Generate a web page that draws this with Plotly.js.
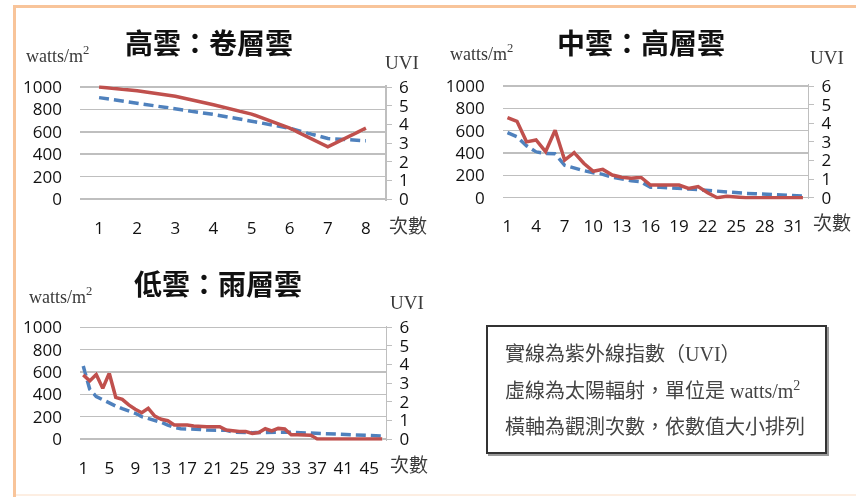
<!DOCTYPE html>
<html>
<head>
<meta charset="utf-8">
<script src="https://cdn.plot.ly/plotly-3.0.1.min.js"></script>
<style>
html,body{margin:0;padding:0;background:#fff;}
#page{position:relative;width:856px;height:497px;overflow:hidden;background:#fff;}
.fig{position:absolute;z-index:1;}
.grid{position:absolute;z-index:2;pointer-events:none;mix-blend-mode:darken;}
.bd{position:absolute;z-index:10;pointer-events:none;}
</style>
</head>
<body>
<div id="page">
  <div id="c1" class="fig" style="left:0;top:0;width:428px;height:250px;"></div>
  <div id="g1" class="grid" style="left:0;top:0;width:428px;height:250px;"></div>
  <div id="c2" class="fig" style="left:428px;top:0;width:428px;height:250px;"></div>
  <div id="g2" class="grid" style="left:428px;top:0;width:428px;height:250px;"></div>
  <div id="c3" class="fig" style="left:0;top:250px;width:856px;height:247px;"></div>
  <div id="g3" class="grid" style="left:0;top:250px;width:856px;height:247px;"></div>
  <div class="bd" style="left:13px;top:5px;width:3px;height:492px;background:#f8c49a;"></div>
  <div class="bd" style="left:13px;top:5px;width:843px;height:3px;background:#f8c49a;"></div>
  <div class="bd" style="left:16px;top:494px;width:840px;height:2px;background:#fdeee2;"></div>
</div>
<script>
// ---- data ----
const titles = ["高雲：卷層雲", "中雲：高層雲", "低雲：雨層雲"];
const leftTicks = [0, 200, 400, 600, 800, 1000];
const rightTicks = [0, 1, 2, 3, 4, 5, 6];

// 高雲：卷層雲
const c1Ticks = [1, 2, 3, 4, 5, 6, 7, 8];
const c1Uvi = [6.0, 5.8, 5.5, 5.05, 4.55, 3.8, 2.8, 3.8];
const c1Rad = [905, 855, 810, 755, 695, 632, 540, 520];

// 中雲：高層雲
const c2Ticks = [1, 4, 7, 10, 13, 16, 19, 22, 25, 28, 31];
const c2Uvi = [4.3, 4.1, 3.0, 3.1, 2.47, 3.62, 2.02, 2.42, 1.85, 1.42, 1.52, 1.22, 1.1, 1.04, 1.1,
               0.68, 0.68, 0.68, 0.68, 0.5, 0.6, 0.27, 0.0, 0.08, 0.02, 0, 0, 0, 0, 0, 0, 0];
const c2Rad = [582, 546, 465, 410, 395, 394, 290, 263, 242, 224, 209, 183, 165, 152, 143,
               93, 93, 90, 85, 78, 72, 64, 60, 51, 45, 39, 36, 33, 30, 24, 21, 15];

// 低雲：雨層雲
const c3Ticks = [1, 5, 9, 13, 17, 21, 25, 29, 33, 37, 41, 45];
const c3Uvi = [3.44, 3.12, 3.47, 2.72, 3.53, 2.24, 2.13, 1.83, 1.6, 1.41, 1.65, 1.23, 1.06, 0.98,
               0.75, 0.75, 0.75, 0.7, 0.66, 0.66, 0.66, 0.66, 0.48, 0.43, 0.4, 0.4, 0.3, 0.35,
               0.55, 0.43, 0.57, 0.54, 0.23, 0.23, 0.23, 0.2, 0, 0, 0, 0, 0, 0, 0, 0, 0, 0, 0];
const c3Rad = [653, 445, 380, 349, 325, 295, 271, 253, 230, 200, 185, 170, 149, 125, 104, 92,
               92, 89, 86, 80, 80, 80, 78, 62, 58, 57, 57, 58, 60, 60, 60, 60, 60, 58, 57, 55,
               48, 45, 45, 44, 40, 39, 38, 33, 32, 30, 27];

const noteLines = ["實線為紫外線指數（UVI）", "虛線為太陽輻射，單位是 watts/m<sup>2</sup>", "橫軸為觀測次數，依數值大小排列"];

// ---- styling ----
const RED = "#C0504D", BLUE = "#4F81BD";
const GRID = "#bfbfbf";
const tickFont = {family: "Open Sans, Liberation Sans, sans-serif", size: 17, color: "#111"};
const serif = "Liberation Serif, Noto Sans CJK TC, serif";
const titleFont = {family: "Noto Sans CJK TC, sans-serif", size: 28, color: "#111", weight: 700};
const idx = arr => arr.map((_, i) => i + 1);
const PAD = 15;          // small range padding (axis units of the left scale)
const LMAX = 1000, RMAX = 6;

function makeChart(cfg) {
  const {div, gridDiv, ox, oy, w, h, title, ticks, uvi, rad, box, pos} = cfg;
  const px = x => (x - ox) / w;
  const py = y => 1 - (y - oy) / h;
  // box.y0 = pixel of 1000, box.y1 = pixel of 0
  const k = (box.y1 - box.y0) / LMAX;
  const top = box.y0 - PAD * k, bot = box.y1 + PAD * k;
  const yDomain = [py(bot), py(top)];
  const xDomain = [px(box.x0), px(box.x1)];
  const xRange = [0.5, uvi.length + 0.5];
  const yRange = [-PAD, LMAX + PAD];
  const y2Range = [-PAD * RMAX / LMAX, RMAX + PAD * RMAX / LMAX];

  const data = [
    {x: idx(rad), y: rad, type: "scatter", mode: "lines",
     line: {color: BLUE, width: 3.5, dash: "10px,5px"}},
    {x: idx(uvi), y: uvi, yaxis: "y2", type: "scatter", mode: "lines",
     line: {color: RED, width: 3.5}}
  ];

  const ann = [];
  const txt = (text, x, y, font, extra) => ann.push(Object.assign({text: text, x: px(x), y: py(y),
    xref: "paper", yref: "paper", showarrow: false, xanchor: "center", yanchor: "middle", font: font}, extra || {}));
  const lab = (size) => ({family: serif, size: size, color: "#3a3a3a"});

  txt(title, pos.title[0], pos.title[1], titleFont);
  txt("watts/m<sup>2</sup>", pos.unit[0], pos.unit[1], lab(18));
  txt("UVI", pos.uvi[0], pos.uvi[1], lab(19));
  txt("次數", pos.cnt[0], pos.cnt[1], lab(19));

  const shapes = [];
  if (cfg.note) {
    const n = cfg.note;
    shapes.push(
      {type: "rect", xref: "paper", yref: "paper", x0: px(n.x0 + 2), x1: px(n.x1 + 2), y0: py(n.y1 + 2), y1: py(n.y0 + 2),
       line: {color: "#9a9a9a", width: 2}},
      {type: "rect", xref: "paper", yref: "paper", x0: px(n.x0), x1: px(n.x1), y0: py(n.y1), y1: py(n.y0),
       line: {color: "#333", width: 2}, fillcolor: "#fff"});
    noteLines.forEach((t, i) => txt(t, n.tx, n.ty[i], {family: serif, size: 20, color: "#444"}, {xanchor: "left"}));
  }

  const layout = {
    width: w, height: h, margin: {l: 0, r: 0, t: 0, b: 0},
    paper_bgcolor: "rgba(0,0,0,0)", plot_bgcolor: "rgba(0,0,0,0)", showlegend: false,
    xaxis: {domain: xDomain, range: xRange, anchor: "y",
            tickmode: "array", tickvals: ticks,
            showgrid: false, zeroline: false, showline: false, ticks: "",
            tickfont: tickFont, ticklabelstandoff: 15},
    yaxis: {domain: yDomain, range: yRange, anchor: "x",
            tickmode: "array", tickvals: leftTicks,
            showgrid: false, zeroline: false, showline: false, ticks: "",
            tickfont: tickFont, ticklabelstandoff: 17},
    yaxis2: {overlaying: "y", side: "right", anchor: "x", range: y2Range,
            tickmode: "array", tickvals: rightTicks,
            showgrid: false, zeroline: false, showline: true, linecolor: GRID, linewidth: 1.5,
            ticks: "outside", ticklen: 5, tickcolor: GRID,
            tickfont: tickFont, ticklabelstandoff: 4},
    annotations: ann, shapes: shapes
  };
  Plotly.newPlot(div, data, layout, {displayModeBar: false, staticPlot: true});

  // gridlines: a plain axes-only figure on the same scales, blended (darken) over the chart
  const gridLayout = {
    width: w, height: h, margin: {l: 0, r: 0, t: 0, b: 0},
    paper_bgcolor: "rgba(0,0,0,0)", plot_bgcolor: "rgba(0,0,0,0)", showlegend: false,
    xaxis: {domain: xDomain, range: xRange, showgrid: false, zeroline: false, showline: false,
            ticks: "", showticklabels: false},
    yaxis: {domain: yDomain, range: yRange, tickmode: "array", tickvals: leftTicks,
            showgrid: true, gridcolor: GRID, gridwidth: 1.5, zeroline: false, showline: false,
            ticks: "", showticklabels: false}
  };
  Plotly.newPlot(gridDiv, [], gridLayout, {displayModeBar: false, staticPlot: true});
}

makeChart({div: "c1", gridDiv: "g1", ox: 0, oy: 0, w: 428, h: 250, title: titles[0], ticks: c1Ticks, uvi: c1Uvi, rad: c1Rad,
  box: {x0: 80, x1: 385, y0: 87, y1: 199},
  pos: {title: [209, 42], unit: [58, 55], uvi: [402, 62], cnt: [408, 226]}});

makeChart({div: "c2", gridDiv: "g2", ox: 428, oy: 0, w: 428, h: 250, title: titles[1], ticks: c2Ticks, uvi: c2Uvi, rad: c2Rad,
  box: {x0: 502.7, x1: 807.7, y0: 86, y1: 197.7},
  pos: {title: [641, 42], unit: [482, 53], uvi: [827, 58], cnt: [832, 223]}});

makeChart({div: "c3", gridDiv: "g3", ox: 0, oy: 250, w: 856, h: 247, title: titles[2], ticks: c3Ticks, uvi: c3Uvi, rad: c3Rad,
  box: {x0: 80, x1: 385.5, y0: 327.3, y1: 439},
  pos: {title: [218, 283], unit: [61, 295], uvi: [407, 302], cnt: [409, 465]},
  note: {x0: 487, x1: 826, y0: 326, y1: 453, tx: 503, ty: [354, 390, 427]}});
</script>
</body>
</html>
